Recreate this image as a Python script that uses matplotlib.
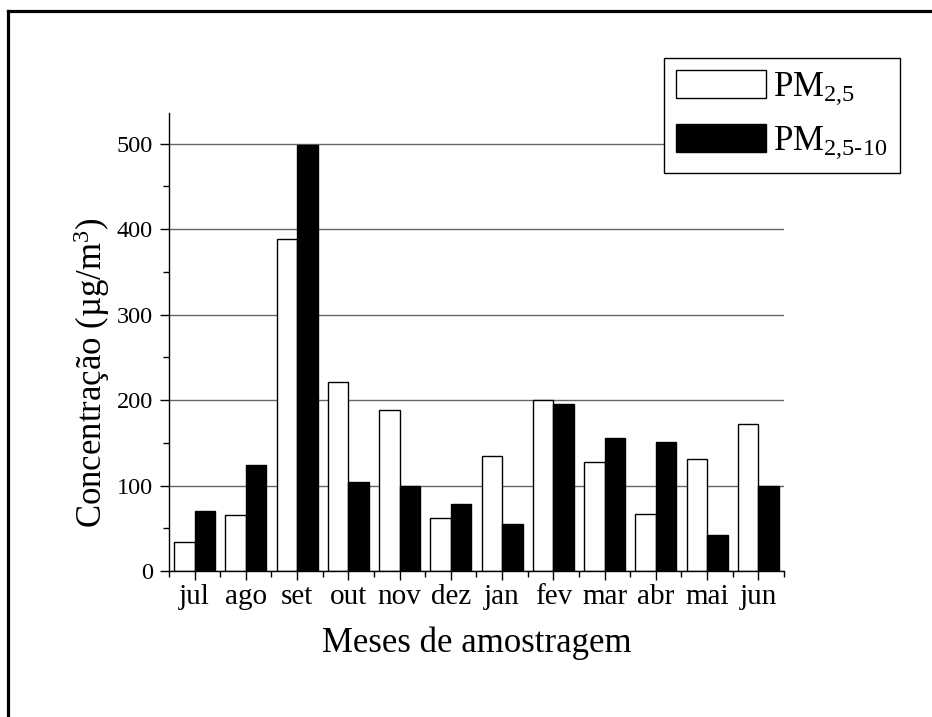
import numpy as np
import matplotlib
matplotlib.use("Agg")
import matplotlib.pyplot as plt
from matplotlib.lines import Line2D

plt.rcParams['font.family'] = ['Liberation Serif', 'DejaVu Serif']
plt.rcParams['mathtext.fontset'] = 'custom'
plt.rcParams['mathtext.rm'] = 'Liberation Serif'
plt.rcParams['mathtext.default'] = 'regular'

# dados
meses = ['jul', 'ago', 'set', 'out', 'nov', 'dez', 'jan', 'fev', 'mar', 'abr', 'mai', 'jun']
pm25 = [34, 66, 388, 221, 189, 62, 135, 200, 127, 67, 131, 172]
pm25_10 = [70, 124, 498, 104, 100, 78, 55, 196, 156, 151, 42, 100]

fig = plt.figure(figsize=(9.32, 7.17), dpi=100)
ax = fig.add_axes([0.1813, 0.2036, 0.6599, 0.6388])

x = np.arange(1, len(meses) + 1)
w = 0.4
ax.bar(x - w/2, pm25, w, color='white', edgecolor='black', linewidth=1.0,
       label=r'PM$_{2{,}5}$')
ax.bar(x + w/2, pm25_10, w, color='black', edgecolor='black', linewidth=1.0,
       label=r'PM$_{2{,}5\text{-}10}$')

ax.set_xlim(0.5, 12.5)
ax.set_ylim(0, 536)
ax.set_xticks(x)
ax.set_xticklabels(meses, fontsize=21)
ax.set_xticks(np.arange(0.5, 13, 1), minor=True)
ax.set_yticks([0, 100, 200, 300, 400, 500])
ax.set_yticks([50, 150, 250, 350, 450], minor=True)
ax.tick_params(axis='y', labelsize=17.5, pad=5)
ax.tick_params(axis='x', pad=3)
ax.tick_params(which='major', length=6.5, width=1.0, direction='out')
ax.tick_params(which='minor', length=4, width=1.0, direction='out')

ax.spines['top'].set_visible(False)
ax.spines['right'].set_visible(False)
ax.spines['left'].set_linewidth(1.0)
ax.spines['bottom'].set_linewidth(1.0)

ax.set_axisbelow(True)
ax.yaxis.grid(True, color='#666666', linewidth=1.0)

ax.set_xlabel('Meses de amostragem', fontsize=25, labelpad=12)
ax.set_ylabel('Concentração (µg/m$^{3}$)', fontsize=25)
ax.yaxis.set_label_coords(-0.093, 0.432)

leg = fig.legend(loc='upper left', bbox_to_anchor=(0.7124, 0.9195), fontsize=25,
                 handlelength=2.6, handleheight=0.85, handletextpad=0.2,
                 borderpad=0.35, labelspacing=0.5, borderaxespad=0,
                 fancybox=False, framealpha=1, edgecolor='black')
leg.get_frame().set_linewidth(1.0)

# moldura da figura
fig.add_artist(Line2D([0.009, 0.009], [0, 0.984], transform=fig.transFigure, color='black', linewidth=2.3))
fig.add_artist(Line2D([0.009, 1.0], [0.984, 0.984], transform=fig.transFigure, color='black', linewidth=2.3))

fig.savefig('out.png', dpi=100)
